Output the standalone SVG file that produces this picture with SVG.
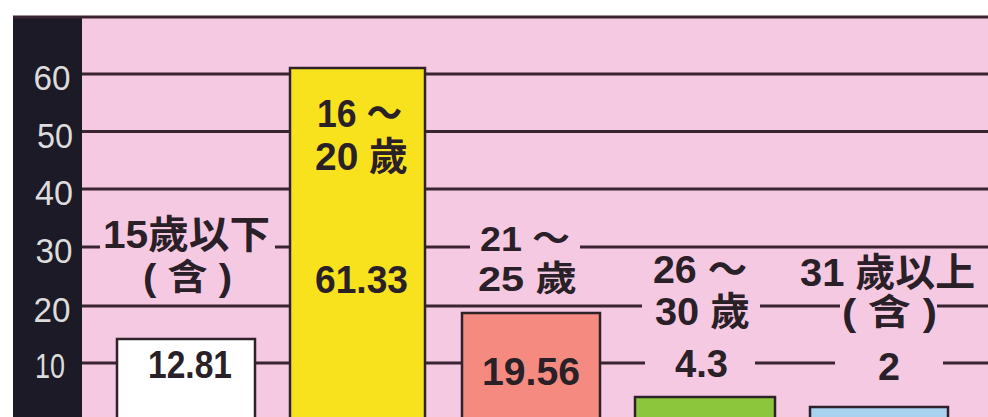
<svg xmlns="http://www.w3.org/2000/svg" width="988" height="417" viewBox="0 0 988 417">
<style>
.grid line{stroke:#3a2432;stroke-width:3}
.bar{stroke:#2e2228;stroke-width:2.5}
.lbl{font-family:"Liberation Sans","Noto Sans CJK TC",sans-serif;font-weight:bold;font-size:39px;fill:#2a2027}
.cjk{font-size:36px}
.sm{font-size:35px}
.ax{font-family:"Liberation Sans",sans-serif;font-size:35px;fill:#dcdcdc;text-anchor:middle}
</style>
<rect x="0" y="0" width="988" height="417" fill="#ffffff"/>
<rect x="13" y="17" width="975" height="410" fill="#f6c9e3"/>
<rect x="13" y="17" width="69" height="410" fill="#1c1a26"/>
<g id="axis">
<text class="ax" x="52" y="90" textLength="37" lengthAdjust="spacingAndGlyphs">60</text>
<text class="ax" x="55" y="148" textLength="36" lengthAdjust="spacingAndGlyphs">50</text>
<text class="ax" x="54" y="205" textLength="38" lengthAdjust="spacingAndGlyphs">40</text>
<text class="ax" x="54" y="263" textLength="37" lengthAdjust="spacingAndGlyphs">30</text>
<text class="ax" x="52" y="322" textLength="37" lengthAdjust="spacingAndGlyphs">20</text>
<text class="ax" x="50" y="378" textLength="30" lengthAdjust="spacingAndGlyphs">10</text>
</g>
<g id="connectors" class="grid">
<line x1="13" y1="17" x2="988" y2="17"/>
<line x1="82" y1="74" x2="290" y2="74"/><line x1="425" y1="74" x2="988" y2="74"/>
<line x1="82" y1="131.5" x2="290" y2="131.5"/><line x1="425" y1="131.5" x2="988" y2="131.5"/>
<line x1="82" y1="189" x2="290" y2="189"/><line x1="425" y1="189" x2="988" y2="189"/>
<line x1="82" y1="247" x2="100" y2="247"/><line x1="275" y1="247" x2="290" y2="247"/><line x1="425" y1="247" x2="470" y2="247"/><line x1="580" y1="247" x2="988" y2="247"/>
<line x1="82" y1="306" x2="290" y2="306"/><line x1="425" y1="306" x2="642" y2="306"/><line x1="760" y1="306" x2="840" y2="306"/><line x1="937" y1="306" x2="988" y2="306"/>
<line x1="82" y1="363" x2="117" y2="363"/><line x1="255" y1="363" x2="290" y2="363"/><line x1="425" y1="363" x2="462" y2="363"/><line x1="600" y1="363" x2="645" y2="363"/><line x1="755" y1="363" x2="835" y2="363"/><line x1="943" y1="363" x2="988" y2="363"/>
</g>
<g id="bar-15">
<rect class="bar" x="117" y="339" width="138" height="90" fill="#ffffff"/>
<text class="lbl"><tspan x="103" y="248" textLength="167" lengthAdjust="spacingAndGlyphs">15歲以下</tspan><tspan class="cjk" x="143" y="290" textLength="89" lengthAdjust="spacingAndGlyphs">( 含 )</tspan></text>
<text class="lbl" x="148" y="378" textLength="84" lengthAdjust="spacingAndGlyphs">12.81</text>
</g>
<g id="bar-16-20">
<rect class="bar" x="290" y="68" width="135" height="360" fill="#f8e21e"/>
<text class="lbl"><tspan x="317" y="127" textLength="85" lengthAdjust="spacingAndGlyphs">16 ～</tspan><tspan x="315" y="170" textLength="93" lengthAdjust="spacingAndGlyphs">20 歲</tspan></text>
<text class="lbl" x="315" y="293" textLength="93" lengthAdjust="spacingAndGlyphs">61.33</text>
</g>
<g id="bar-21-25">
<rect class="bar" x="462" y="313" width="138" height="115" fill="#f58b80"/>
<text class="lbl sm"><tspan x="480" y="251" textLength="90" lengthAdjust="spacingAndGlyphs">21 ～</tspan><tspan x="478" y="291" textLength="99" lengthAdjust="spacingAndGlyphs">25 歲</tspan></text>
<text class="lbl" x="482" y="385" textLength="98" lengthAdjust="spacingAndGlyphs">19.56</text>
</g>
<g id="bar-26-30">
<rect class="bar" x="635" y="397" width="140" height="30" fill="#8cc63c"/>
<text class="lbl"><tspan x="653" y="283" textLength="94" lengthAdjust="spacingAndGlyphs">26 ～</tspan><tspan x="655" y="325" textLength="95" lengthAdjust="spacingAndGlyphs">30 歲</tspan></text>
<text class="lbl" x="675" y="377" textLength="53" lengthAdjust="spacingAndGlyphs">4.3</text>
</g>
<g id="bar-31">
<rect class="bar" x="810" y="407" width="138" height="20" fill="#a9d2ef"/>
<text class="lbl"><tspan x="800" y="286" textLength="175" lengthAdjust="spacingAndGlyphs">31 歲以上</tspan><tspan class="cjk" x="842" y="325" textLength="95" lengthAdjust="spacingAndGlyphs">( 含 )</tspan></text>
<text class="lbl" x="878" y="380" textLength="22" lengthAdjust="spacingAndGlyphs">2</text>
</g>
</svg>
